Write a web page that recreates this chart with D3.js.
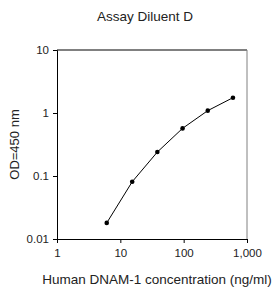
<!DOCTYPE html>
<html lang="en">
<head>
    <meta charset="UTF-8">
    <title>Assay Diluent D</title>
    <style>
        body { margin: 0; background: #fff; }
        text { font-family: "Liberation Sans", Arial, sans-serif; fill: #222; }
    </style>
</head>
<body>
    <div id="chart"></div>
    <script src="https://cdnjs.cloudflare.com/ajax/libs/d3/7.8.5/d3.min.js"></script>
    <script>
        // standard curve readings
        const concentration = [6.1, 15.4, 38.4, 96, 240, 600];
        const od450 = [0.018, 0.081, 0.24, 0.57, 1.09, 1.75];
        const xTicks = [1, 10, 100, 1000];
        const yTicks = [0.01, 0.1, 1, 10];

        const margin = {top: 50, right: 26, bottom: 58, left: 57};
        const W = 273, H = 297;
        const width = W - margin.left - margin.right;
        const height = H - margin.top - margin.bottom;

        const svg = d3.select("#chart")
            .append("svg")
            .attr("width", W)
            .attr("height", H);

        const g = svg.append("g")
            .attr("transform", `translate(${margin.left},${margin.top})`);

        const x = d3.scaleLog().domain([1, 1000]).range([0, width]);
        const y = d3.scaleLog().domain([0.01, 10]).range([height, 0]);

        // grey frame top/right
        g.append("line")
            .attr("x1", 0).attr("x2", width).attr("y1", 0).attr("y2", 0)
            .attr("stroke", "#808080").attr("stroke-width", 2);
        g.append("line")
            .attr("x1", width).attr("x2", width).attr("y1", 0).attr("y2", height)
            .attr("stroke", "#808080").attr("stroke-width", 1);

        const xAxis = g.append("g")
            .attr("transform", `translate(0,${height})`)
            .call(d3.axisBottom(x).tickValues(xTicks).tickSize(4).tickPadding(6)
                .tickFormat(d3.format(",")));
        const yAxis = g.append("g")
            .call(d3.axisLeft(y).tickValues(yTicks).tickSize(4).tickPadding(4)
                .tickFormat(d => d));

        [xAxis, yAxis].forEach(a => {
            a.select(".domain").attr("stroke", "#000");
            a.selectAll(".tick line").attr("stroke", "#000");
            a.selectAll("text")
                .style("font-family", "'Liberation Sans', Arial, sans-serif")
                .style("font-size", "11.5px")
                .attr("fill", "#222");
        });

        const pts = concentration.map((c, i) => ({c: c, v: od450[i]}));

        g.append("path")
            .datum(pts)
            .attr("fill", "none")
            .attr("stroke", "#000")
            .attr("stroke-width", 1)
            .attr("d", d3.line().x(d => x(d.c)).y(d => y(d.v)));

        g.selectAll("circle")
            .data(pts)
            .join("circle")
            .attr("cx", d => x(d.c))
            .attr("cy", d => y(d.v))
            .attr("r", 2.3)
            .attr("fill", "#000");

        svg.append("text")
            .attr("x", 145).attr("y", 21)
            .attr("text-anchor", "middle")
            .style("font-size", "13.5px")
            .text("Assay Diluent D");

        svg.append("text")
            .attr("transform", `translate(19,${margin.top + height / 2}) rotate(-90)`)
            .attr("text-anchor", "middle")
            .style("font-size", "13px")
            .text("OD=450 nm");

        svg.append("text")
            .attr("x", 157).attr("y", 284)
            .attr("text-anchor", "middle")
            .style("font-size", "13.5px")
            .text("Human DNAM-1 concentration (ng/ml)");
    </script>
</body>
</html>
